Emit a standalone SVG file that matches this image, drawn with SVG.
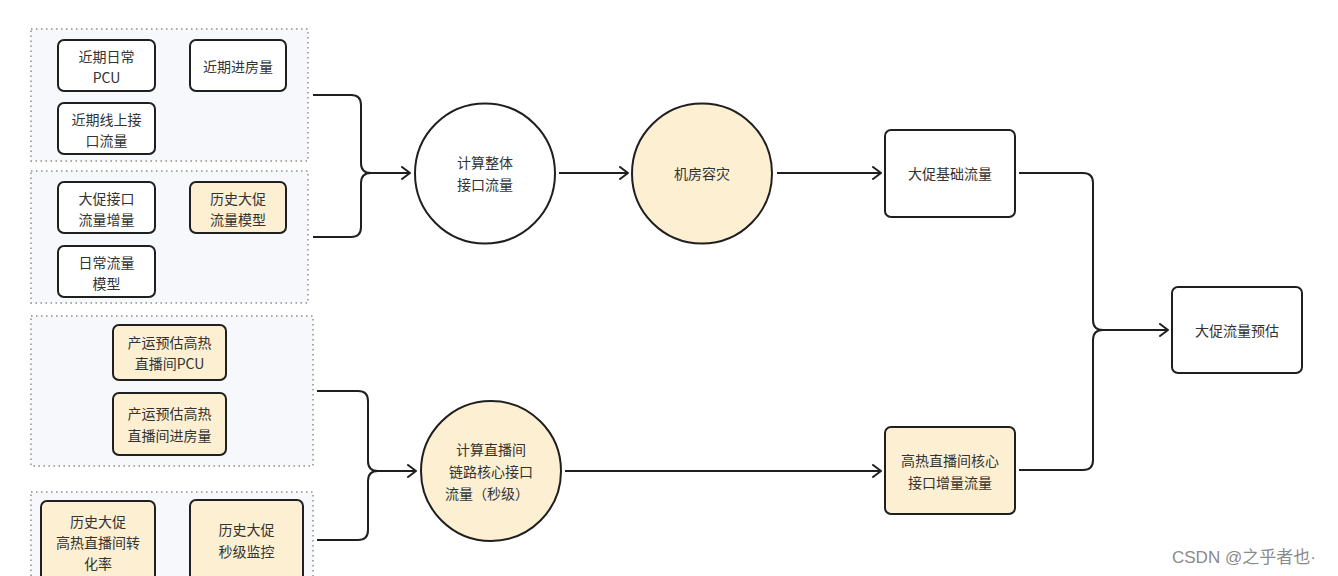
<svg xmlns="http://www.w3.org/2000/svg" width="1338" height="576" viewBox="0 0 1338 576">
<defs>
<marker id="arr" markerWidth="12" markerHeight="14" refX="10" refY="7" orient="auto" markerUnits="userSpaceOnUse">
<path d="M2,1 L10,7 L2,13" fill="none" stroke="#1f1f1f" stroke-width="2" stroke-linecap="round" stroke-linejoin="round"/>
</marker>
<style>
.grp{fill:#f7f8fc;stroke:#a8a8a8;stroke-width:2;stroke-dasharray:1.5 3.5}
.b{fill:#ffffff;stroke:#1f1f1f;stroke-width:2}
.y{fill:#fcefd2;stroke:#1f1f1f;stroke-width:2}
.t{font-family:"Noto Sans CJK SC","Noto Sans",sans-serif;font-size:14px;fill:#333;text-anchor:middle}
.c{fill:none;stroke:#1f1f1f;stroke-width:2}
.wm{font-family:"Liberation Sans","Noto Sans CJK SC",sans-serif;font-size:17px;fill:#8a8a8a}
</style>
</defs>
<rect width="1338" height="576" fill="#ffffff"/>
<g id="groups">
<rect class="grp" x="31" y="29" width="277" height="132"/>
<rect class="grp" x="31" y="171" width="277" height="132"/>
<rect class="grp" x="31" y="316" width="282" height="150"/>
<rect class="grp" x="31" y="492" width="282" height="100"/>
</g>
<g id="n1"><rect class="b" x="58" y="40" width="97" height="51" rx="6"/><text class="t" x="106.5" y="62">近期日常</text><text class="t" x="106.5" y="83">PCU</text></g>
<g id="n2"><rect class="b" x="190" y="40" width="96" height="51" rx="6"/><text class="t" x="238" y="72">近期进房量</text></g>
<g id="n3"><rect class="b" x="58" y="103" width="97" height="51" rx="6"/><text class="t" x="106.5" y="125">近期线上接</text><text class="t" x="106.5" y="146">口流量</text></g>
<g id="n4"><rect class="b" x="58" y="182" width="97" height="51" rx="6"/><text class="t" x="106.5" y="204">大促接口</text><text class="t" x="106.5" y="225">流量增量</text></g>
<g id="n5"><rect class="y" x="190" y="182" width="96" height="51" rx="6"/><text class="t" x="238" y="204">历史大促</text><text class="t" x="238" y="225">流量模型</text></g>
<g id="n6"><rect class="b" x="58" y="246" width="97" height="51" rx="6"/><text class="t" x="106.5" y="268">日常流量</text><text class="t" x="106.5" y="289">模型</text></g>
<g id="n7"><rect class="y" x="113" y="325" width="113" height="55" rx="6"/><text class="t" x="169.5" y="348">产运预估高热</text><text class="t" x="169.5" y="369">直播间PCU</text></g>
<g id="n8"><rect class="y" x="113" y="393" width="113" height="62" rx="6"/><text class="t" x="169.5" y="419">产运预估高热</text><text class="t" x="169.5" y="441">直播间进房量</text></g>
<g id="n9"><rect class="y" x="41" y="501" width="114" height="90" rx="6"/><text class="t" x="98" y="527">历史大促</text><text class="t" x="98" y="548">高热直播间转</text><text class="t" x="98" y="569">化率</text></g>
<g id="n10"><rect class="y" x="190" y="500" width="113" height="90" rx="6"/><text class="t" x="246.5" y="535">历史大促</text><text class="t" x="246.5" y="557">秒级监控</text></g>
<g id="c1"><circle class="b" cx="485" cy="173.5" r="70"/><text class="t" x="485" y="168">计算整体</text><text class="t" x="485" y="190">接口流量</text></g>
<g id="c2"><circle class="y" cx="702" cy="173.5" r="70"/><text class="t" x="702" y="179">机房容灾</text></g>
<g id="c3"><circle class="y" cx="491" cy="471" r="70"/><text class="t" x="491" y="455">计算直播间</text><text class="t" x="491" y="477">链路核心接口</text><text class="t" x="487" y="499">流量（秒级）</text></g>
<g id="n11"><rect class="b" x="885" y="130" width="130" height="87" rx="6"/><text class="t" x="950" y="179">大促基础流量</text></g>
<g id="n12"><rect class="y" x="885" y="427" width="130" height="87" rx="6"/><text class="t" x="950" y="466">高热直播间核心</text><text class="t" x="950" y="488">接口增量流量</text></g>
<g id="n13"><rect class="b" x="1172" y="287" width="130" height="86" rx="6"/><text class="t" x="1237" y="336">大促流量预估</text></g>
<g id="connectors">
<path class="c" d="M313,95 H351 Q361,95 361,105 V163 Q361,173 371,173"/>
<path class="c" d="M313,237 H351 Q361,237 361,227 V183 Q361,173 371,173 H410" marker-end="url(#arr)"/>
<path class="c" d="M317,391 H358 Q368,391 368,401 V461 Q368,471 378,471"/>
<path class="c" d="M317,540 H358 Q368,540 368,530 V481 Q368,471 378,471 H416" marker-end="url(#arr)"/>
<path class="c" d="M559,173 H628" marker-end="url(#arr)"/>
<path class="c" d="M777,173 H881" marker-end="url(#arr)"/>
<path class="c" d="M565,471 H881" marker-end="url(#arr)"/>
<path class="c" d="M1019,173 H1083 Q1093,173 1093,183 V320 Q1093,330 1103,330"/>
<path class="c" d="M1019,470 H1083 Q1093,470 1093,460 V340 Q1093,330 1103,330 H1168" marker-end="url(#arr)"/>
</g>
<text class="wm" x="1172" y="563">CSDN @之乎者也·</text>
</svg>
